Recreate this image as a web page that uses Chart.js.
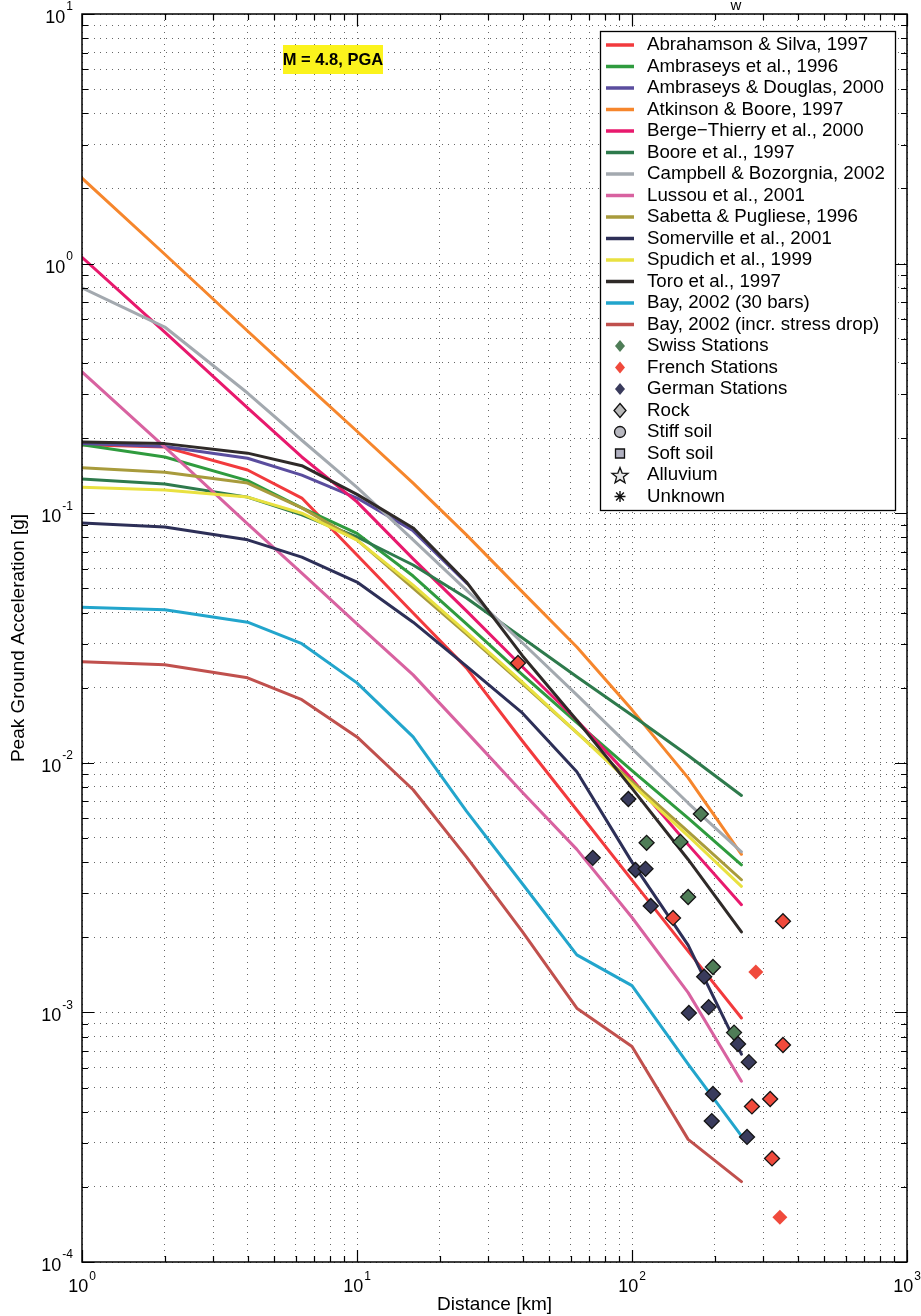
<!DOCTYPE html>
<html><head><meta charset="utf-8">
<script src="https://cdn.jsdelivr.net/npm/chart.js@4.4.1/dist/chart.umd.min.js"></script>
<style>html,body{margin:0;padding:0;background:#fff;}canvas{display:block}</style>
</head><body>
<canvas id="c" width="921" height="1316"></canvas>
<script>
// ---------- DATA ----------
const distanceKm = [1, 2, 4, 6.3, 10, 16, 25, 40, 63, 100, 160, 250];

const abrahamsonSilva1997   = [0.188, 0.184, 0.149, 0.115, 0.068, 0.0398, 0.024, 0.0122, 0.00647, 0.00339, 0.00176, 0.00095];
const ambraseys1996         = [0.188, 0.168, 0.135, 0.105, 0.083, 0.056, 0.036, 0.0225, 0.0145, 0.0093, 0.006, 0.0039];
const ambraseysDouglas2000  = [0.19, 0.185, 0.166, 0.142, 0.115, 0.085, 0.0525];
const atkinsonBoore1997     = [2.2, 1.09, 0.537, 0.339, 0.213, 0.132, 0.0819, 0.0483, 0.0291, 0.0163, 0.0087, 0.0043];
const bergeThierry2000      = [1.06, 0.532, 0.264, 0.168, 0.111, 0.0656, 0.0406, 0.0242, 0.0148, 0.0086, 0.0047, 0.0027];
const boore1997             = [0.137, 0.131, 0.116, 0.0985, 0.0803, 0.062, 0.0457, 0.0316, 0.0221, 0.0155, 0.0107, 0.0074];
const campbellBozorgnia2002 = [0.8, 0.557, 0.303, 0.196, 0.127, 0.0782, 0.0492, 0.0302, 0.0187, 0.0114, 0.0069, 0.0044];
const lussou2001            = [0.368, 0.184, 0.0906, 0.0575, 0.036, 0.0225, 0.0133, 0.0076, 0.0045, 0.0024, 0.0012, 0.00053];
const sabettaPugliese1996   = [0.152, 0.146, 0.132, 0.105, 0.0782, 0.0501, 0.0328, 0.0207, 0.0132, 0.0084, 0.0053, 0.0034];
const somerville2001        = [0.0914, 0.088, 0.0782, 0.0667, 0.053, 0.0366, 0.0244, 0.0158, 0.0092, 0.004, 0.00186, 0.00068];
const spudich1999           = [0.127, 0.124, 0.116, 0.1, 0.078, 0.0515, 0.0334, 0.021, 0.0132, 0.0082, 0.0051, 0.0032];
const toro1997              = [0.193, 0.19, 0.174, 0.155, 0.119, 0.0873, 0.053, 0.0268, 0.0148, 0.0079, 0.0041, 0.0021];
const bay2002Bars30         = [0.042, 0.041, 0.0366, 0.030, 0.0209, 0.0127, 0.0064, 0.00327, 0.0017, 0.00128, 0.00062, 0.00032];
const bay2002IncrStress     = [0.0254, 0.0247, 0.0219, 0.0179, 0.0127, 0.0078, 0.0042, 0.0021, 0.00104, 0.00073, 0.00031, 0.00021];

const swissDist   = [113, 150, 160, 178, 197, 235];
const swissPGA    = [0.00478, 0.00482, 0.0029, 0.00624, 0.00152, 0.00083];
const frenchDist  = [38.5, 141, 354, 282, 354, 273, 318, 323, 345];
const frenchPGA   = [0.0251, 0.00239, 0.00232, 0.00145, 0.00074, 0.00042, 0.00045, 0.00026, 0.000151];
const germanDist  = [72, 97, 103, 112, 117, 161, 183, 190, 195, 197, 243, 262, 266];
const germanPGA   = [0.00416, 0.00716, 0.00372, 0.00376, 0.00267, 0.000995, 0.00139, 0.00105, 0.000367, 0.000471, 0.000747, 0.000317, 0.000632];

const seriesNames = ['Abrahamson & Silva, 1997', 'Ambraseys et al., 1996', 'Ambraseys & Douglas, 2000', 'Atkinson & Boore, 1997',
  'Berge\u2212Thierry et al., 2000', 'Boore et al., 1997', 'Campbell & Bozorgnia, 2002', 'Lussou et al., 2001',
  'Sabetta & Pugliese, 1996', 'Somerville et al., 2001', 'Spudich et al., 1999', 'Toro et al., 1997',
  'Bay, 2002 (30 bars)', 'Bay, 2002 (incr. stress drop)'];
const seriesValues = [abrahamsonSilva1997, ambraseys1996, ambraseysDouglas2000, atkinsonBoore1997, bergeThierry2000, boore1997,
  campbellBozorgnia2002, lussou2001, sabettaPugliese1996, somerville2001, spudich1999, toro1997, bay2002Bars30, bay2002IncrStress];
const stationNames = ['Swiss Stations', 'French Stations', 'German Stations'];
const siteClassNames = ['Rock', 'Stiff soil', 'Soft soil', 'Alluvium', 'Unknown'];

const xMajorTicks = [1, 10, 100, 1000];
const xTickExponents = ['0', '1', '2', '3'];
const yMajorTicks = [1e-4, 1e-3, 1e-2, 1e-1, 1, 10];
const yTickExponents = ['-4', '-3', '-2', '-1', '0', '1'];
const minorMultipliers = [2, 3, 4, 5, 6, 7, 8, 9];
const xAxisTitle = 'Distance [km]';
const yAxisTitle = 'Peak Ground Acceleration [g]';
const annotationText = 'M = 4.8, PGA';
const titleFragment = 'w';

// ---------- STYLE ----------
const seriesColors = ['#f23a3d', '#2f9b3e', '#5a4d9e', '#f6862c', '#e8196d', '#2e7a4c', '#a3a9af', '#d862a0',
  '#a89b3c', '#2d2f57', '#e9e140', '#2f2a28', '#22a5cc', '#c0504d'];
const stationColors = ['#4f7d57', '#f04a3c', '#393b5c'];
const frenchNoEdge = [3, 8];
const FONT = '"Liberation Sans", Arial, Helvetica, sans-serif';

function tickList(majors) {
  const out = [];
  for (let i = 0; i < majors.length; i++) {
    out.push(majors[i]);
    if (i < majors.length - 1) minorMultipliers.forEach(m => out.push(+(majors[i] * m).toPrecision(3)));
  }
  return out;
}
const xTickValues = tickList(xMajorTicks);
const yTickValues = tickList(yMajorTicks);

const datasets = [];
seriesValues.forEach((vals, i) => {
  datasets.push({
    label: seriesNames[i],
    data: vals.map((v, k) => ({x: distanceKm[k], y: v})),
    showLine: true, borderColor: seriesColors[i], backgroundColor: seriesColors[i],
    borderWidth: 3, pointRadius: 0, tension: 0, fill: false, order: 100 - i,
    borderCapStyle: 'round', borderJoinStyle: 'round'
  });
});
[[swissDist, swissPGA], [frenchDist, frenchPGA], [germanDist, germanPGA]].forEach((p, j) => {
  datasets.push({
    label: stationNames[j],
    data: p[0].map((d, k) => ({x: d, y: p[1][k]})),
    showLine: false, pointStyle: 'rectRot', pointRadius: 7.5,
    pointBackgroundColor: stationColors[j],
    pointBorderColor: '#151515',
    pointBorderWidth: (ctx) => (j === 1 && frenchNoEdge.includes(ctx.dataIndex)) ? 0 : 1.3,
    order: 10 - j
  });
});

function drawMarker(ctx, kind, x, y) {
  ctx.save();
  ctx.lineWidth = 1.3; ctx.strokeStyle = '#111';
  if (kind === 'diamond') {
    ctx.fillStyle = '#b8b8b8';
    ctx.beginPath(); ctx.moveTo(x, y - 7); ctx.lineTo(x + 6, y); ctx.lineTo(x, y + 7); ctx.lineTo(x - 6, y); ctx.closePath(); ctx.fill(); ctx.stroke();
  } else if (kind === 'circle') {
    ctx.fillStyle = '#b8b8c0';
    ctx.beginPath(); ctx.arc(x, y, 5.5, 0, Math.PI * 2); ctx.fill(); ctx.stroke();
  } else if (kind === 'square') {
    ctx.fillStyle = '#b0b0c0';
    ctx.beginPath(); ctx.rect(x - 4.5, y - 4.5, 9, 9); ctx.fill(); ctx.stroke();
  } else if (kind === 'star') {
    ctx.fillStyle = '#e8e8e8';
    ctx.beginPath();
    for (let k = 0; k < 10; k++) {
      const r = k % 2 === 0 ? 8.5 : 3.6;
      const a = -Math.PI / 2 + k * Math.PI / 5;
      const px = x + r * Math.cos(a), py = y + 1 + r * Math.sin(a);
      k === 0 ? ctx.moveTo(px, py) : ctx.lineTo(px, py);
    }
    ctx.closePath(); ctx.fill(); ctx.stroke();
  } else if (kind === 'asterisk') {
    ctx.lineWidth = 1.4;
    ctx.beginPath();
    for (let k = 0; k < 4; k++) {
      const a = k * Math.PI / 4;
      ctx.moveTo(x - 5.5 * Math.cos(a), y - 5.5 * Math.sin(a));
      ctx.lineTo(x + 5.5 * Math.cos(a), y + 5.5 * Math.sin(a));
    }
    ctx.stroke();
  } else {
    ctx.fillStyle = kind;
    ctx.beginPath(); ctx.moveTo(x, y - 6); ctx.lineTo(x + 5, y); ctx.lineTo(x, y + 6); ctx.lineTo(x - 5, y); ctx.closePath(); ctx.fill();
  }
  ctx.restore();
}

const decorPlugin = {
  id: 'decor',
  afterDatasetsDraw(chart) {
    const {ctx, chartArea: a, scales: {x, y}} = chart;
    ctx.save();
    // axes frame
    ctx.strokeStyle = '#000'; ctx.lineWidth = 1.5;
    ctx.strokeRect(a.left, a.top, a.right - a.left, a.bottom - a.top);
    // inward ticks
    ctx.lineWidth = 1.2;
    ctx.beginPath();
    xTickValues.forEach(v => {
      const px = Math.round(x.getPixelForValue(v)) + 0.5;
      const len = xMajorTicks.includes(v) ? 12 : 6;
      ctx.moveTo(px, a.bottom); ctx.lineTo(px, a.bottom - len);
      ctx.moveTo(px, a.top); ctx.lineTo(px, a.top + len);
    });
    yTickValues.forEach(v => {
      const py = Math.round(y.getPixelForValue(v)) + 0.5;
      const len = yMajorTicks.includes(v) ? 12 : 6;
      ctx.moveTo(a.left, py); ctx.lineTo(a.left + len, py);
      ctx.moveTo(a.right, py); ctx.lineTo(a.right - len, py);
    });
    ctx.stroke();

    // legend box
    const lx = 600, ly = 31, lw = 295, lh = 479;
    ctx.fillStyle = '#fff';
    ctx.fillRect(lx, ly, lw, lh);
    ctx.strokeStyle = '#000'; ctx.lineWidth = 1.3;
    ctx.strokeRect(lx + 0.5, ly + 0.5, lw, lh);
    ctx.font = '18.7px ' + FONT; ctx.textBaseline = 'middle'; ctx.textAlign = 'left'; ctx.fillStyle = '#000';
    const rowH = 21.5, y0 = 45;
    seriesNames.forEach((n, i) => {
      const yy = y0 + i * rowH;
      ctx.strokeStyle = seriesColors[i]; ctx.lineWidth = 3.5;
      ctx.beginPath(); ctx.moveTo(606, yy); ctx.lineTo(634, yy); ctx.stroke();
      ctx.fillStyle = '#000'; ctx.fillText(n, 647, yy);
    });
    stationNames.forEach((n, j) => {
      const yy = y0 + (seriesNames.length + j) * rowH;
      drawMarker(ctx, stationColors[j], 620, yy);
      ctx.fillStyle = '#000'; ctx.fillText(n, 647, yy);
    });
    const kinds = ['diamond', 'circle', 'square', 'star', 'asterisk'];
    siteClassNames.forEach((n, j) => {
      const yy = y0 + (seriesNames.length + stationNames.length + j) * rowH;
      drawMarker(ctx, kinds[j], 620, yy);
      ctx.fillStyle = '#000'; ctx.fillText(n, 647, yy);
    });

    // annotation box
    ctx.fillStyle = '#fbf31c';
    ctx.fillRect(283, 45, 100, 29);
    ctx.fillStyle = '#000'; ctx.font = 'bold 16.5px ' + FONT; ctx.textAlign = 'center';
    ctx.fillText(annotationText, 333, 60);
    ctx.restore();
  },
  afterDraw(chart) {
    const {ctx, chartArea: a, scales: {x, y}} = chart;
    ctx.save();
    ctx.fillStyle = '#000'; ctx.textBaseline = 'middle';
    // cropped title fragment at the very top
    ctx.font = '15px ' + FONT; ctx.textAlign = 'center';
    ctx.fillText(titleFragment, 736, 6);
    // x tick labels
    xMajorTicks.forEach((v, i) => {
      const px = x.getPixelForValue(v);
      ctx.font = '18px ' + FONT;
      const w1 = ctx.measureText('10').width;
      ctx.font = '12px ' + FONT;
      const w2 = ctx.measureText(xTickExponents[i]).width;
      const start = px - (w1 + w2 + 1) / 2;
      ctx.font = '18px ' + FONT; ctx.textAlign = 'left';
      ctx.fillText('10', start, a.bottom + 25);
      ctx.font = '12px ' + FONT;
      ctx.fillText(xTickExponents[i], start + w1 + 1, a.bottom + 15);
    });
    // y tick labels
    yMajorTicks.forEach((v, i) => {
      const py = y.getPixelForValue(v);
      ctx.font = '12px ' + FONT; ctx.textAlign = 'right';
      ctx.fillText(yTickExponents[i], a.left - 9, py - 7);
      const w2 = ctx.measureText(yTickExponents[i]).width;
      ctx.font = '18px ' + FONT;
      ctx.fillText('10', a.left - 10 - w2, py + 4);
    });
    // axis titles
    ctx.font = '19px ' + FONT; ctx.textAlign = 'center';
    ctx.fillText(xAxisTitle, (a.left + a.right) / 2, a.bottom + 43);
    ctx.save();
    ctx.translate(19, (a.top + a.bottom) / 2);
    ctx.rotate(-Math.PI / 2);
    ctx.fillText(yAxisTitle, 0, 0);
    ctx.restore();
    ctx.restore();
  }
};

const gridStyle = {color: 'rgba(0,0,0,0.6)', lineWidth: 1, drawTicks: false};
new Chart(document.getElementById('c'), {
  type: 'scatter',
  data: {datasets},
  options: {
    responsive: false, animation: false, devicePixelRatio: 1,
    layout: {padding: {left: 82, right: 14, top: 14, bottom: 54}},
    plugins: {legend: {display: false}, tooltip: {enabled: false}},
    scales: {
      x: {type: 'logarithmic', min: 1, max: 1000, ticks: {display: false}, grid: gridStyle,
          border: {display: false, dash: [1, 5]},
          afterBuildTicks: s => { s.ticks = xTickValues.map(v => ({value: v})); }},
      y: {type: 'logarithmic', min: 1e-4, max: 10, ticks: {display: false}, grid: gridStyle,
          border: {display: false, dash: [1, 5]},
          afterBuildTicks: s => { s.ticks = yTickValues.map(v => ({value: v})); }}
    }
  },
  plugins: [decorPlugin]
});
</script>
</body></html>
